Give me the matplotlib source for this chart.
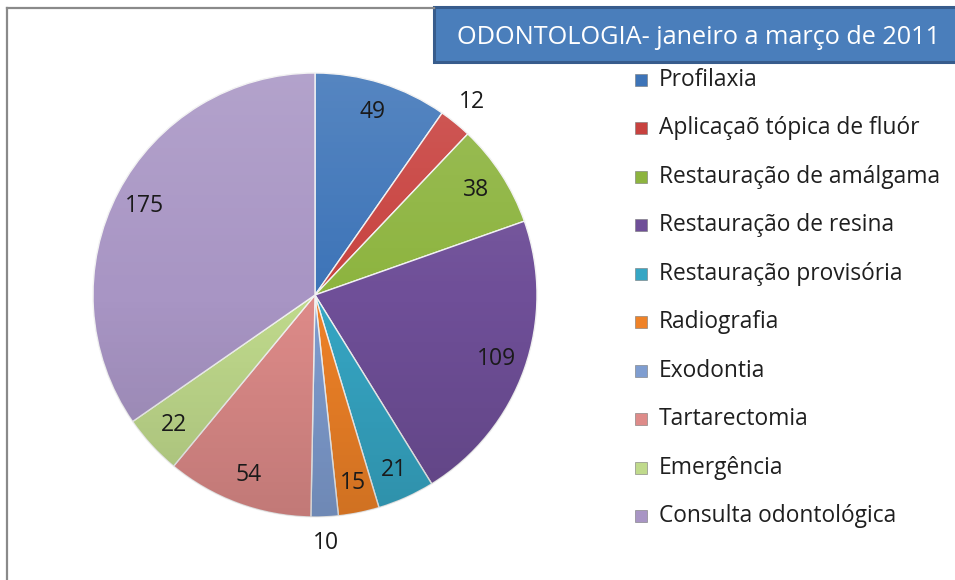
import numpy as np
import matplotlib
matplotlib.use('Agg')
import matplotlib.pyplot as plt
from matplotlib.patches import Rectangle, Circle
from matplotlib.lines import Line2D

plt.rcParams['font.family'] = ['Open Sans', 'DejaVu Sans']

title = 'ODONTOLOGIA- janeiro a março de 2011'
categories = ['Profilaxia', 'Aplicaçaõ tópica de fluór', 'Restauração de amálgama',
              'Restauração de resina', 'Restauração provisória', 'Radiografia',
              'Exodontia', 'Tartarectomia', 'Emergência', 'Consulta odontológica']
values = [49, 12, 38, 109, 21, 15, 10, 54, 22, 175]
colors = ['#3d74b8', '#c8423f', '#8db43f', '#6f4f98', '#36a6c4', '#ef8227',
          '#7f9dd0', '#de8b89', '#c0da8c', '#a895c4']
outside = [False, True, False, False, False, False, True, False, False, False]

W, H = 955, 580
fig = plt.figure(figsize=(W / 100, H / 100), dpi=100)
fig.patch.set_facecolor('white')

# pie geometry in pixels
cx, cy, R = 315, 295, 222
ax = fig.add_axes([(cx - R) / W, (H - cy - R) / H, 2 * R / W, 2 * R / H])
wedges, _ = ax.pie(values, colors=colors, startangle=90, counterclock=False,
                   radius=1, wedgeprops=dict(edgecolor='#f2f2f2', linewidth=1.0))
ax.set_xlim(-1, 1)
ax.set_ylim(-1, 1)
ax.set_aspect('equal')
ax.axis('off')

# soft shading, lighter top / darker bottom
g = np.linspace(1, -1, 256)[:, None] * np.ones((1, 256))
rgba = np.zeros((256, 256, 4))
rgba[..., :3] = np.where(g[..., None] > 0, 1.0, 0.0)
rgba[..., 3] = np.abs(g) * 0.13
clip = Circle((0, 0), 1, transform=ax.transData)
im = ax.imshow(rgba, extent=[-1, 1, -1, 1], zorder=3)
im.set_clip_path(clip)

# data labels
for w, v, out in zip(wedges, values, outside):
    mid = np.deg2rad((w.theta1 + w.theta2) / 2)
    r = 1.12 if out else 0.865
    ax.text(r * np.cos(mid), r * np.sin(mid), str(v), ha='center', va='center',
            fontsize=16.5, color='#1a1a1a', zorder=5, clip_on=False)

# frame lines (left and top)
fig.add_artist(Line2D([7 / W, 7 / W], [0, 1 - 8 / H], color='#8a8a8a', lw=1.6))
fig.add_artist(Line2D([7 / W, 434 / W], [1 - 8 / H, 1 - 8 / H], color='#8a8a8a', lw=1.6))

# title box
fig.add_artist(Rectangle((434 / W, 1 - 62 / H), (W - 434 + 10) / W, 55 / H,
                         transform=fig.transFigure, facecolor='#4a7ebb',
                         edgecolor='#375c8c', lw=2.2, clip_on=False))
fig.text(699 / W, 1 - 37 / H, title, ha='center', va='center', fontsize=18.2,
         color='white')

# legend
for i, (lab, c) in enumerate(zip(categories, colors)):
    y = 80 + i * 48.45
    fig.add_artist(Rectangle((635 / W, 1 - (y + 6) / H), 12 / W, 12 / H,
                             transform=fig.transFigure, facecolor=c,
                             edgecolor='#777777', lw=0.4))
    fig.text(659 / W, 1 - y / H, lab, ha='left', va='center', fontsize=16.4,
             color='#1f1f1f')

fig.savefig('out.png', dpi=100)
